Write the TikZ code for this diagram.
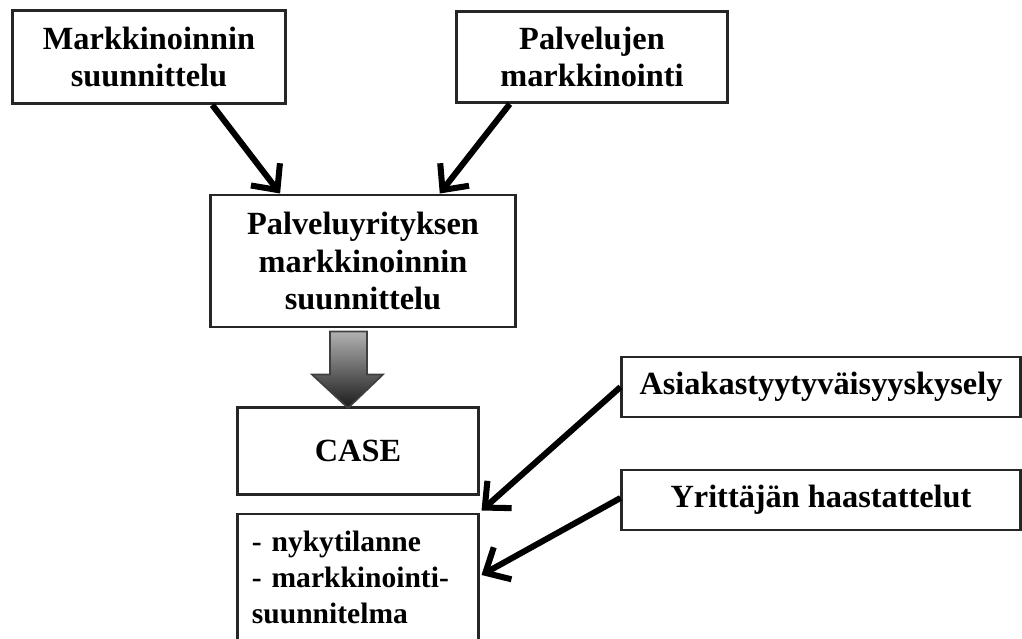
\documentclass[tikz,border=0pt]{standalone}
\usepackage{fontspec}
\setmainfont{Liberation Serif}
\usetikzlibrary{arrows.meta,calc}

\tikzset{
  box/.style={draw=black!85, line width=2.1pt, fill=white, align=center,
    inner sep=0pt, font=\fontsize{23}{26.5}\selectfont\bfseries},
  link/.style={line width=4.3pt, -{Straight Barb[length=14pt,width=26pt]}},
  blockarrow/.style={draw=black!75, line width=1.2pt, line join=miter,
    top color=black!30, bottom color=black!90}
}

\begin{document}
\begin{tikzpicture}[x=0.025cm, y=-0.025cm]
%
	\useasboundingbox (0,0) rectangle (1022,639);
%
	\node[box, minimum width=6.8cm, minimum height=2.325cm] (mark) at (149,57)
		{Markkinoinnin\\suunnittelu};
	\node[box, minimum width=6.775cm, minimum height=2.275cm] (palv) at (592,57)
		{Palvelujen\\markkinointi};
	\node[box, minimum width=7.6cm, minimum height=3.3cm] (plan) at (363,261)
		{Palveluyrityksen\\markkinoinnin\\suunnittelu};
	\node[box, minimum width=6cm, minimum height=2.175cm] (case) at (358,451)
		{CASE};
	\node[box, minimum width=6cm, minimum height=3.15cm, align=left,
		text width=5.3cm, font=\fontsize{21}{25.6}\selectfont\bfseries]
		(result) at (358,577)
		{- nykytilanne\\- markkinointi-\\suunnitelma};
	\node[box, minimum width=9.95cm, minimum height=1.5cm] (survey) at (821,387)
		{Asiakastyytyväisyyskysely};
	\node[box, minimum width=9.95cm, minimum height=1.5cm] (interv) at (821,500)
		{Yrittäjän haastattelut};
%
	\draw[link] ($(mark.south west)!0.73!(mark.south east)$)
		-- ($(plan.north west)!0.23!(plan.north east)$);
	\draw[link] ($(palv.south west)!0.2!(palv.south east)$)
		-- ($(plan.north west)!0.75!(plan.north east)$);
	\draw[link] (survey.west) -- ($(result.north east)+(2,-2)$);
	\draw[link] ($(interv.west)+(0,-2)$) -- ($(result.east)+(2,-2)$);
%
	\shade[blockarrow] ($(plan.south)+(-33,3)$) -- ($(plan.south)+(4,3)$)
		-- ($(plan.south)+(4,46)$) -- ($(plan.south)+(20,46)$)
		-- ($(case.north)+(-10,2)$) -- ($(plan.south)+(-51,46)$)
		-- ($(plan.south)+(-33,46)$) -- cycle;
%
\end{tikzpicture}
\end{document}
